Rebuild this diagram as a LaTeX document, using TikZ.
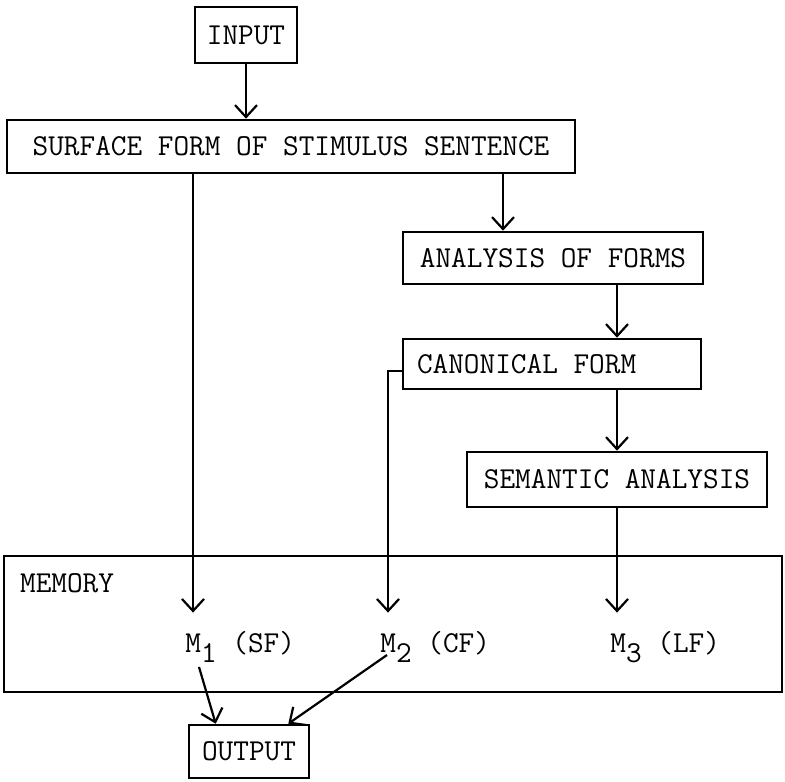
\documentclass[tikz,border=0pt]{standalone}
\usepackage{tikz}
\usetikzlibrary{arrows.meta, positioning, calc}
\newcommand{\lowsub}[1]{\raisebox{-5pt}{#1}}

\begin{document}
\begin{tikzpicture}[
  x=0.5pt, y=-0.5pt,
  font=\ttfamily\fontsize{15.2}{18}\selectfont,
  box/.style={draw, line width=1.3pt, inner xsep=2pt, inner ysep=0pt},
  mlabel/.style={anchor=base west, inner xsep=0pt, inner ysep=9.5pt, text height=10pt, text depth=6pt},
  arrow/.style={-{Straight Barb[length=6pt, width=11pt]}, line width=1.1pt}]
  \useasboundingbox (0,0) rectangle (785,781);
  \node[box, minimum width=51pt, minimum height=28pt] (in) at (246,35) {INPUT};
  \node[box, minimum width=284pt, minimum height=26.5pt] (sf) at (291,146.5) {SURFACE FORM OF STIMULUS SENTENCE};
  \node[box, minimum width=150pt, minimum height=26pt] (af) at (553,258) {ANALYSIS OF FORMS};
  \node[box, inner xsep=7pt, minimum height=25pt] (cf) at (552,364) {\makebox[135pt][l]{CANONICAL FORM}};
  \node[box, minimum width=150pt, minimum height=27.5pt] (sa) at (617,479.5) {SEMANTIC ANALYSIS};
  \node[box, minimum width=389pt, minimum height=68pt] (mem) at (393,624) {};
  \node[anchor=base west, inner sep=0pt] (memlbl) at ([shift={(8.5pt,-19pt)}]mem.north west) {MEMORY};
  \node[mlabel] (m1) at (185,652) {M\lowsub{1} (SF)};
  \node[mlabel] (m2) at (380,652) {M\lowsub{2} (CF)};
  \node[mlabel] (m3) at (610,652) {M\lowsub{3} (LF)};
  \node[box, minimum width=60pt, minimum height=26.5pt] (out) at (249,751.5) {OUTPUT};
  \draw[arrow] (in.south) -- (in.south |- sf.north);
  \draw[arrow] ([xshift=4pt]m1.north west |- sf.south) -- ([xshift=4pt]m1.north west);
  \draw[arrow] ([xshift=-25pt]af.north |- sf.south) -- ([xshift=-25pt]af.north);
  \draw[arrow] (af.south -| sa.north) -- (cf.north -| sa.north);
  \draw[arrow] (cf.south -| sa.north) -- (sa.north);
  \draw[arrow] ([yshift=-3.5pt]cf.west) -| ([xshift=4pt]m2.north west);
  \draw[arrow] (sa.south) -- (sa.south |- m3.north);
  \draw[arrow] ([shift={(7pt,-7.5pt)}]m1.base west) -- ([xshift=14pt]out.north west);
  \draw[arrow] ([shift={(3.5pt,-1.5pt)}]m2.base west) -- ([xshift=-11pt]out.north east);
\end{tikzpicture}
\end{document}
